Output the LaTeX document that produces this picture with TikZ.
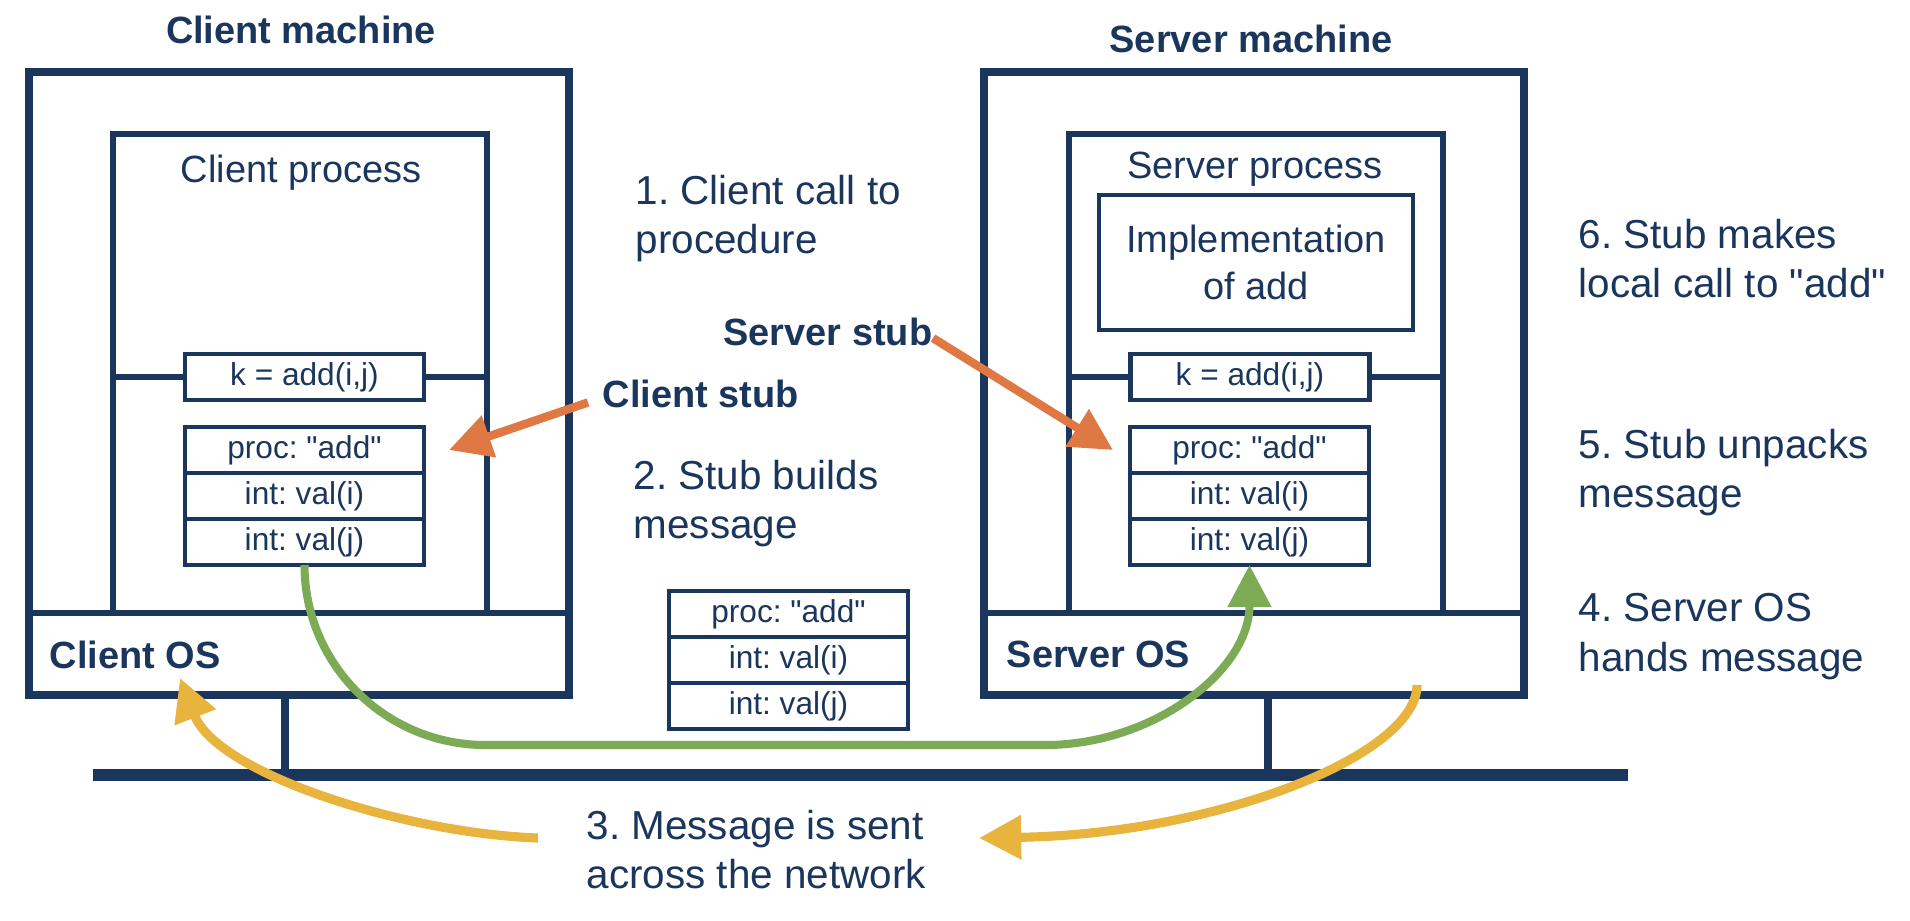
\documentclass[tikz,border=0pt]{standalone}
\usepackage{fontspec}
\setmainfont{Liberation Sans}[Ligatures = TeXOff]
\usetikzlibrary{arrows.meta,positioning}

\definecolor{navy}{RGB}{27,54,93}
\definecolor{stuborange}{RGB}{224,120,68}
\definecolor{callgreen}{RGB}{125,170,85}
\definecolor{netyellow}{RGB}{232,180,62}

\newcommand{\labelfont}{\fontsize{10.8}{13.4}\selectfont}
\newcommand{\stepfont}{\fontsize{11.5}{14.1}\selectfont}
\newcommand{\fieldfont}{\fontsize{9}{11}\selectfont}

\tikzset{
  machine box/.style = {
    shape = rectangle,
    draw  = navy,
    line width = 2.4pt,
    minimum width = 5.40cm,
    minimum height = 6.23cm,
    anchor = north west,
    outer sep = 0pt},
  process box/.style = {
    shape = rectangle,
    draw  = navy,
    line width = 1.5pt,
    minimum width = 3.74cm,
    minimum height = 4.79cm,
    anchor = north west,
    outer sep = 0pt},
  inner box/.style = {
    shape = rectangle,
    draw  = navy,
    line width = 1.4pt,
    align = center,
    font  = \labelfont,
    inner sep = 0pt,
    outer sep = 0pt},
  field box/.style = {
    inner box,
    font  = \fieldfont,
    minimum width = 2.39cm,
    minimum height = 0.46cm},
  plain text/.style = {font = \labelfont, inner sep = 0pt},
  bold text/.style = {font = \labelfont\bfseries, inner sep = 0pt},
  step text/.style = {font = \stepfont, align = left, anchor = north west, inner sep = 0pt},
  thin line/.style = {draw = navy, line width = 1.5pt},
  stand line/.style = {draw = navy, line width = 2.4pt},
  network line/.style = {draw = navy, line width = 3.3pt},
  stub arrow/.style = {draw = stuborange, line width = 2.4pt, ->},
  call arrow/.style = {draw = callgreen, line width = 2.3pt, ->},
  net arrow/.style = {draw = netyellow, line width = 2.6pt, ->}
}

\begin{document}
\frenchspacing
\begin{tikzpicture}[>={Triangle[width = 12pt, length = 12pt]}, nodes = {text = navy}]
  \useasboundingbox (0,0) rectangle (19.10,-9.20);

  \node[bold text, anchor = base] (ctitle) at (3.01,-0.43) {Client machine};
  \node[bold text, anchor = base] (stitle) at (12.51,-0.52) {Server machine};
  \node[machine box] (cmach) at (0.29,-0.72) {};
  \node[machine box] (smach) at (9.84,-0.72) {};
  \node[process box] (cproc) at (1.13,-1.34) {};
  \node[process box] (sproc) at (10.69,-1.34) {};
  \draw[thin line] (cproc.south -| cmach.west) -- (cproc.south -| cmach.east);
  \draw[thin line] (sproc.south -| smach.west) -- (sproc.south -| smach.east);
  \node[plain text, anchor = base] (cproctext) at (3.01,-1.82) {Client process};
  \node[plain text, anchor = base] (sproctext) at (12.55,-1.78) {Server process};
  \node[bold text, anchor = base west] (cos) at (0.49,-6.68) {Client OS};
  \node[bold text, anchor = base west] (sos) at (10.06,-6.67) {Server OS};
  \node[inner box, anchor = north west, minimum width = 3.14cm, minimum height = 1.35cm] (impl) at (10.99,-1.95) {Implementation\\of add};

  \node[field box] (ccall) at (3.045,-3.77) {k = add(i,j)};
  \node[field box] (scall) at (12.50,-3.77) {k = add(i,j)};
  \draw[thin line] (cproc.west |- ccall) -- (ccall.west);
  \draw[thin line] (ccall.east) -- (cproc.east |- ccall);
  \draw[thin line] (sproc.west |- scall) -- (scall.west);
  \draw[thin line] (scall.east) -- (sproc.east |- scall);

  \foreach \m/\x/\y in {c/1.85/-4.27, s/11.30/-4.27, m/6.69/-5.91} {
    \node[field box, anchor = north west] (\m f1) at (\x,\y) {proc: "add"};
    \node[field box, below = 0pt of \m f1] (\m f2) {int: val(i)};
    \node[field box, below = 0pt of \m f2] (\m f3) {int: val(j)};
  }

  \coordinate (netL) at (0.93,-7.75);
  \coordinate (netR) at (16.28,-7.75);
  \draw[network line] (netL) -- (netR);
  \draw[stand line] ([xshift = -0.14cm]cmach.south) coordinate (cfoot) -- (cfoot |- netL);
  \draw[stand line] ([xshift = 0.14cm]smach.south) coordinate (sfoot) -- (sfoot |- netL);

  \node[step text] (step1) at (6.35,-1.74) {1. Client call to\\procedure};
  \node[step text] (step2) at (6.33,-4.59) {2. Stub builds\\message};
  \node[step text] (step3) at (5.86,-8.09) {3. Message is sent\\across the network};
  \node[step text] (step4) at (15.78,-5.93) {4. Server OS\\hands message};
  \node[step text] (step5) at (15.78,-4.28) {5. Stub unpacks\\message};
  \node[step text] (step6) at (15.78,-2.18) {6. Stub makes\\local call to "add"};

  \node[bold text, anchor = base west] (cstub) at (6.02,-4.07) {Client stub};
  \node[bold text, anchor = base east] (sstub) at (9.33,-3.45) {Server stub};

  \coordinate (ctip) at ([xshift = 0.25cm]cf1.east);
  \coordinate (stip) at ([xshift = -0.17cm]sf1.west);
  \coordinate (cin) at (1.80,-6.78);
  \coordinate (sout) at (14.17,-6.85);
  \coordinate (msgleft) at (5.38,-8.38);
  \coordinate (msgright) at (9.79,-8.38);

  \draw[stub arrow] ([xshift = -0.14cm, yshift = -0.09cm]cstub.west) -- (ctip);
  \draw[stub arrow] ([yshift = 0.08cm]sstub.south east) -- (stip);
  \draw[call arrow] (cf3.south) to[out = -90, in = 180] ++(1.81,-1.80) -- ++(5.60,0) to[out = 0, in = -90] (sf3.south);
  \draw[net arrow] (msgleft) .. controls +(-1.36,0.05) and +(0.37,-0.95) .. (cin);
  \draw[net arrow] (sout) .. controls +(0,-0.70) and +(2.39,0.04) .. (msgright);
\end{tikzpicture}
\end{document}
